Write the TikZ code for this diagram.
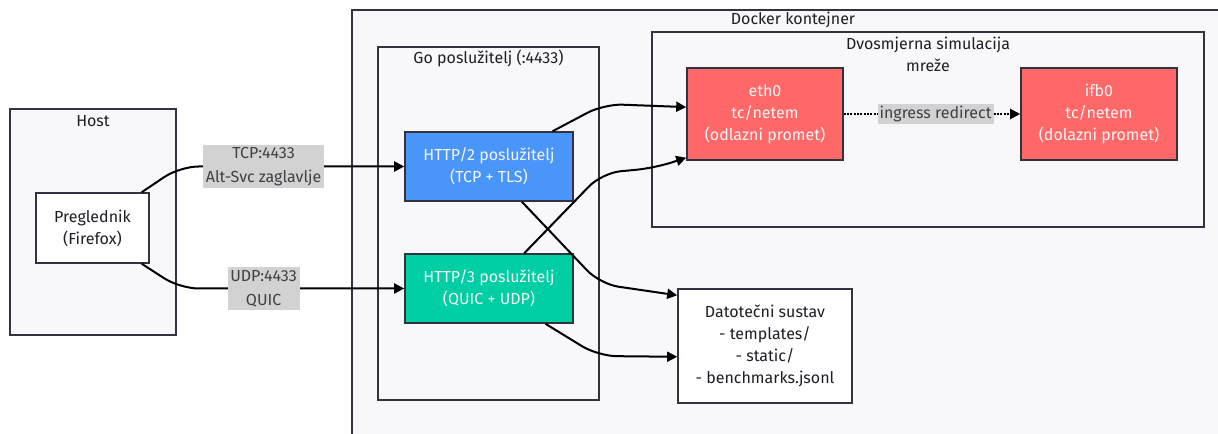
\documentclass[tikz,border=0pt]{standalone}
\usepackage{fontspec}
\setsansfont{Fira Sans}
\usepackage{tikz}
\usetikzlibrary{arrows.meta,positioning,calc}
\usepackage{xcolor}
\definecolor{boxline}{RGB}{50,50,64}
\definecolor{groupbg}{RGB}{248,248,250}
\definecolor{srvtcp}{RGB}{74,150,248}
\definecolor{srvquic}{RGB}{0,206,164}
\definecolor{netem}{RGB}{255,104,104}
\definecolor{tagbg}{RGB}{210,210,210}
\definecolor{ink}{RGB}{30,30,36}

\begin{document}
\begin{tikzpicture}[x=0.75pt, y=0.75pt,
  every node/.style={font=\sffamily\fontsize{12}{16.5}\selectfont, text=ink},
  groupN/.style={rectangle, draw=boxline, fill=groupbg, line width=1.2pt, inner sep=0pt},
  plainN/.style={rectangle, draw=boxline, fill=white, line width=1.2pt, align=center},
  srvN/.style={rectangle, draw=boxline, line width=1.2pt, align=center, text=white!96!black, minimum width=126pt, minimum height=51.75pt},
  netN/.style={rectangle, draw=boxline, fill=netem, line width=1.2pt, align=center, text=white!96!black, minimum width=117pt, minimum height=69pt},
  link/.style={line width=1.5pt, rounded corners=14pt, -{Triangle[length=7.5pt,width=7.5pt]}},
  redir/.style={line width=1.5pt, densely dotted, -{Triangle[length=7.5pt,width=7.5pt]}},
  tag/.style={sharp corners, solid, fill=tagbg, align=center, inner sep=2pt, text=ink!85, font=\sffamily\fontsize{12}{18}\selectfont},
]
\useasboundingbox (0,0) rectangle (1218,-434);
\fill[white] (0,0) rectangle (1218,-434);
\node[groupN, minimum width=124.5pt, minimum height=169.5pt] (host) at (93,-222) {};
\node (hostT) at (93,-121) {Host};
\node[plainN, minimum width=84.75pt, minimum height=52.5pt] (pre) at (92.5,-228) {Preglednik\\(Firefox)};
\node[groupN, minimum width=660pt, minimum height=327pt] (docker) at (792,-228) {};
\node (dockerT) at (793,-20) {Docker kontejner};
\node[groupN, minimum width=165.75pt, minimum height=264.75pt] (go) at (488.5,-223.5) {};
\node (goT) at (488.5,-58) {Go poslužitelj (:4433)};
\node[srvN, fill=srvtcp] (h2) at (489,-166.5) {HTTP/2 poslužitelj\\(TCP + TLS)};
\node[srvN, fill=srvquic] (h3) at (489,-288.5) {HTTP/3 poslužitelj\\(QUIC + UDP)};
\node[groupN, minimum width=414pt, minimum height=146.25pt] (sim) at (928,-129.5) {};
\node[align=center] (simT) at (928,-54.5) {Dvosmjerna simulacija\\mreže};
\node[netN] (eth) at (765,-114) {eth0\\tc/netem\\(odlazni promet)};
\node[netN] (ifb) at (1099,-114) {ifb0\\tc/netem\\(dolazni promet)};
\node[plainN, minimum width=130.5pt, minimum height=85.5pt] (fs) at (765,-346) {Datotečni sustav\\- templates/\\- static/\\- benchmarks.jsonl};
\draw[link] (pre.36) -- (180,-166.5) -- node[tag, pos=0.373] {TCP:4433\\Alt-Svc zaglavlje} (h2.west);
\draw[link] (pre.-36) -- (180,-288.5) -- node[tag, pos=0.373] {UDP:4433\\QUIC} (h3.west);
\draw[link] (h2.29) -- (604,-104) -- (eth.175);
\draw[link] (h2.-47) -- (600,-284) -- (fs.150);
\draw[link] (h3.45) -- (602,-173) -- (655,-168) -- (eth.209);
\draw[link] (h3.-32) -- (598,-356) -- (fs.187);
\draw[redir] (eth.east) -- node[tag, pos=0.52, inner sep=1.5pt] {ingress redirect} (ifb.west);
\end{tikzpicture}
\end{document}
